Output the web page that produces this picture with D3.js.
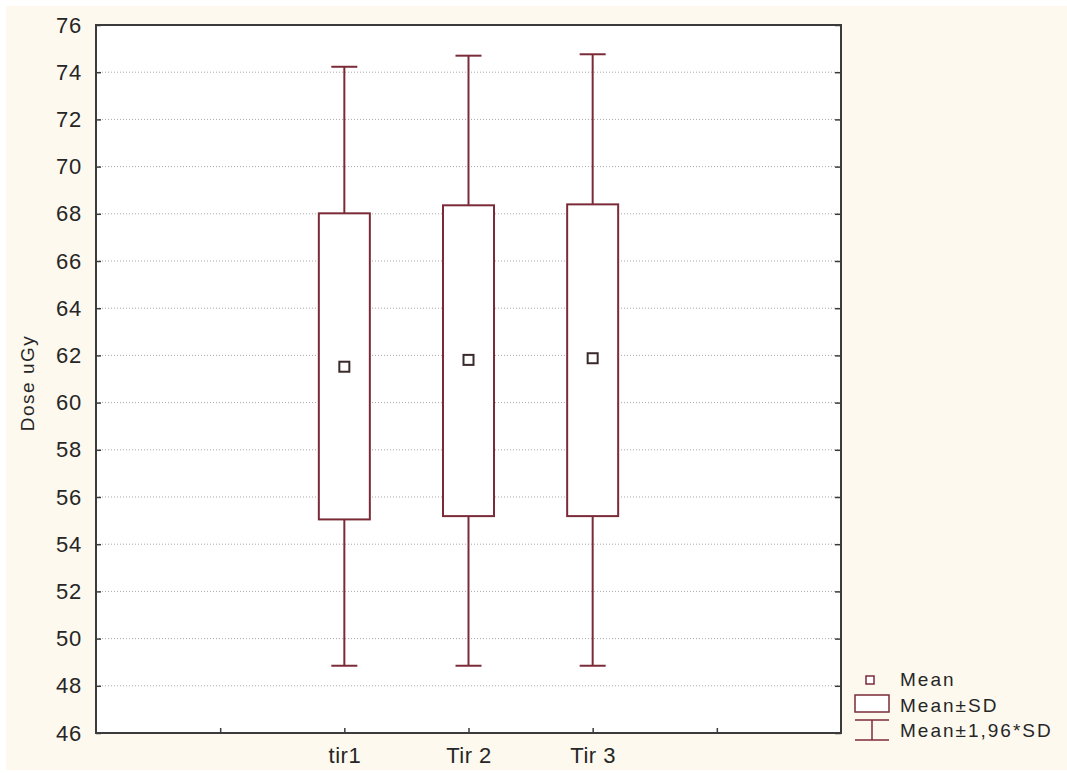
<!DOCTYPE html>
<html>
<head>
<meta charset="utf-8">
<script src="https://cdn.jsdelivr.net/npm/d3@7"></script>
<style>
  html, body { margin: 0; padding: 0; background: #ffffff; }
  svg { display: block; }
  text { font-family: "Liberation Sans", Arial, sans-serif; fill: #262626; }
</style>
</head>
<body>
<svg id="chart" width="1067" height="773"></svg>
<script>
// ---- data ----
const categories = ["tir1", "Tir 2", "Tir 3"];
const means      = [61.52, 61.81, 61.88];
const sdLow      = [55.05, 55.19, 55.19];
const sdHigh     = [68.02, 68.36, 68.40];
const ciLow      = [48.85, 48.85, 48.85];
const ciHigh     = [74.23, 74.70, 74.76];
const yTicks     = [46, 48, 50, 52, 54, 56, 58, 60, 62, 64, 66, 68, 70, 72, 74, 76];
const xSlots     = ["_a", "tir1", "Tir 2", "Tir 3", "_b"];
const yLabel     = "Dose uGy";
const legendLabels = ["Mean", "Mean\u00B1SD", "Mean\u00B11,96*SD"];

// ---- layout ----
const W = 1067, H = 773;
const plot = { left: 96, right: 841, top: 25, bottom: 733 };
const boxColor = "#7b2b38";
const meanColor = "#3a2a2a";
const frameColor = "#3b3b3b";

const svg = d3.select("#chart");

// background
svg.append("rect").attr("x", 0).attr("y", 0).attr("width", W).attr("height", H).attr("fill", "#ffffff");
svg.append("rect").attr("x", 6).attr("y", 6).attr("width", W - 6).attr("height", H - 9).attr("fill", "#fdf9ee");
svg.append("rect").attr("x", plot.left).attr("y", plot.top)
  .attr("width", plot.right - plot.left).attr("height", plot.bottom - plot.top).attr("fill", "#ffffff");

const y = d3.scaleLinear().domain([46, 76]).range([plot.bottom, plot.top]);
const x = d3.scalePoint().domain(xSlots).range([plot.left, plot.right]).padding(1);

// grid
svg.append("g").selectAll("line").data(yTicks.filter(t => t > 46 && t < 76)).join("line")
  .attr("x1", plot.left).attr("x2", plot.right)
  .attr("y1", d => y(d)).attr("y2", d => y(d))
  .attr("stroke", "#a8a8a8").attr("stroke-width", 1).attr("stroke-dasharray", "1,2");

// axes
const yAxis = d3.axisLeft(y).tickValues(yTicks).tickFormat(d3.format("d")).tickSizeInner(-5).tickSizeOuter(0).tickPadding(14);
const gy = svg.append("g").attr("transform", `translate(${plot.left},0)`).call(yAxis);
gy.select(".domain").remove();
gy.selectAll(".tick line").attr("stroke", frameColor).attr("stroke-width", 1.5);
gy.selectAll(".tick text").attr("font-size", 22).attr("letter-spacing", 0.8).attr("fill", "#262626")
  .attr("font-family", "Liberation Sans, Arial, sans-serif");

const yAxisR = d3.axisRight(y).tickValues(yTicks).tickFormat("").tickSizeInner(-6).tickSizeOuter(0);
const gyr = svg.append("g").attr("transform", `translate(${plot.right},0)`).call(yAxisR);
gyr.select(".domain").remove();
gyr.selectAll(".tick line").attr("stroke", frameColor).attr("stroke-width", 1.5);

const xAxis = d3.axisBottom(x).tickFormat(d => d.startsWith("_") ? "" : d).tickSizeInner(-5).tickSizeOuter(0).tickPadding(14);
const gx = svg.append("g").attr("transform", `translate(0,${plot.bottom})`).call(xAxis);
gx.select(".domain").remove();
gx.selectAll(".tick line").attr("stroke", frameColor).attr("stroke-width", 1.5);
gx.selectAll(".tick text").attr("font-size", 22).attr("letter-spacing", 0.5).attr("fill", "#262626")
  .attr("font-family", "Liberation Sans, Arial, sans-serif");

// frame
svg.append("rect").attr("x", plot.left).attr("y", plot.top)
  .attr("width", plot.right - plot.left).attr("height", plot.bottom - plot.top)
  .attr("fill", "none").attr("stroke", frameColor).attr("stroke-width", 2);

// boxes
const boxW = 51, capW = 26, mSize = 10;
const g = svg.append("g");
categories.forEach((c, i) => {
  const cx = x(c);
  g.append("line").attr("x1", cx).attr("x2", cx).attr("y1", y(ciHigh[i])).attr("y2", y(sdHigh[i]))
    .attr("stroke", boxColor).attr("stroke-width", 2);
  g.append("line").attr("x1", cx).attr("x2", cx).attr("y1", y(sdLow[i])).attr("y2", y(ciLow[i]))
    .attr("stroke", boxColor).attr("stroke-width", 2);
  g.append("line").attr("x1", cx - capW / 2).attr("x2", cx + capW / 2).attr("y1", y(ciHigh[i])).attr("y2", y(ciHigh[i]))
    .attr("stroke", boxColor).attr("stroke-width", 2);
  g.append("line").attr("x1", cx - capW / 2).attr("x2", cx + capW / 2).attr("y1", y(ciLow[i])).attr("y2", y(ciLow[i]))
    .attr("stroke", boxColor).attr("stroke-width", 2);
  g.append("rect").attr("x", cx - boxW / 2).attr("y", y(sdHigh[i]))
    .attr("width", boxW).attr("height", y(sdLow[i]) - y(sdHigh[i]))
    .attr("fill", "#ffffff").attr("stroke", boxColor).attr("stroke-width", 2);
  g.append("rect").attr("x", cx - mSize / 2).attr("y", y(means[i]) - mSize / 2)
    .attr("width", mSize).attr("height", mSize)
    .attr("fill", "#ffffff").attr("stroke", meanColor).attr("stroke-width", 2);
});

// y label
svg.append("text")
  .attr("transform", `translate(34,${(plot.top + plot.bottom) / 2 + 4}) rotate(-90)`)
  .attr("text-anchor", "middle").attr("font-size", 19).attr("letter-spacing", 1.5)
  .text(yLabel);

// legend
const lg = svg.append("g");
lg.append("rect").attr("x", 866).attr("y", 676).attr("width", 8).attr("height", 8)
  .attr("fill", "#ffffff").attr("stroke", boxColor).attr("stroke-width", 1.5);
lg.append("rect").attr("x", 855).attr("y", 695).attr("width", 34).attr("height", 17)
  .attr("fill", "#ffffff").attr("stroke", boxColor).attr("stroke-width", 1.5);
lg.append("line").attr("x1", 855).attr("x2", 889).attr("y1", 720).attr("y2", 720).attr("stroke", boxColor).attr("stroke-width", 1.5);
lg.append("line").attr("x1", 855).attr("x2", 889).attr("y1", 740).attr("y2", 740).attr("stroke", boxColor).attr("stroke-width", 1.5);
lg.append("line").attr("x1", 872).attr("x2", 872).attr("y1", 720).attr("y2", 740).attr("stroke", boxColor).attr("stroke-width", 1.5);
lg.selectAll("text.leg").data(legendLabels).join("text").attr("class", "leg")
  .attr("x", 900).attr("y", (d, i) => 686 + i * 25.5)
  .attr("font-size", 19).attr("letter-spacing", 2)
  .text(d => d);
</script>
</body>
</html>
